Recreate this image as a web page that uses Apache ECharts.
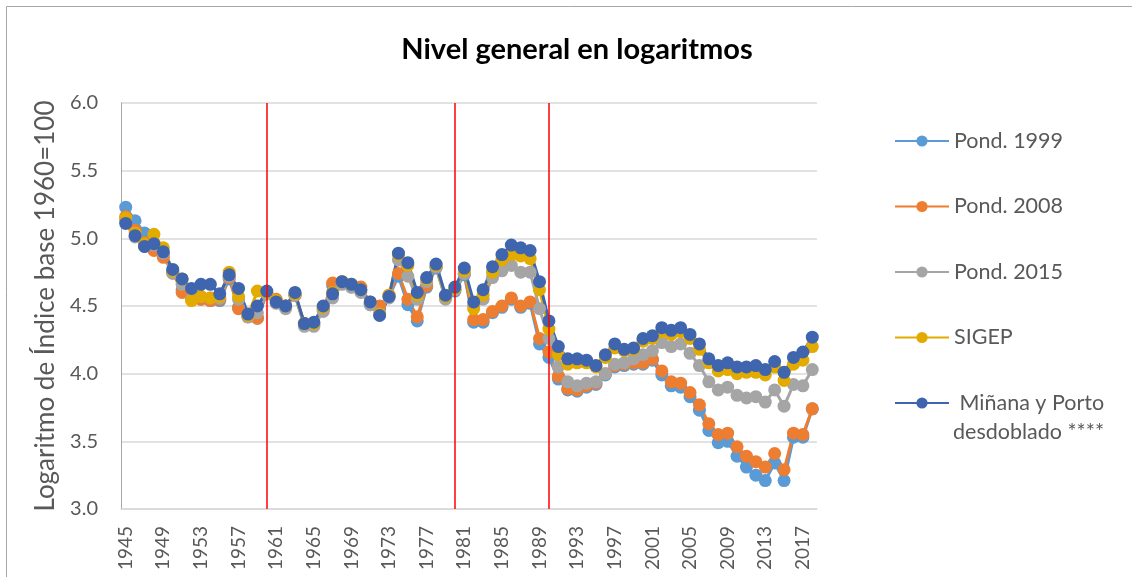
<!DOCTYPE html>
<html>
<head>
<meta charset="utf-8">
<script src="https://cdn.jsdelivr.net/npm/echarts@6/dist/echarts.min.js"></script>
<style>
  html, body { margin: 0; padding: 0; background: #fff; }
  #nivel-log { width: 1132px; height: 577px; }
</style>
</head>
<body>
<div id="nivel-log"></div>
<script>
var years = [];
for (var y = 1945; y <= 2018; y++) { years.push(String(y)); }

var pond1999 = [5.23,5.13,5.04,4.94,4.88,4.75,4.62,4.56,4.55,4.54,4.54,4.70,4.49,4.42,4.41,4.59,
    4.54,4.49,4.58,4.36,4.36,4.47,4.65,4.67,4.64,4.62,4.51,4.48,4.57,4.72,4.51,4.39,4.64,4.78,4.56,4.61,
    4.73,4.38,4.38,4.45,4.49,4.55,4.49,4.52,4.22,4.12,3.96,3.88,3.87,3.90,3.92,3.99,4.05,4.06,4.07,4.07,
    4.10,3.99,3.91,3.90,3.83,3.73,3.58,3.49,3.50,3.39,3.31,3.25,3.21,3.34,3.21,3.53,3.53,3.74];
var pond2008 = [5.16,5.06,4.97,4.91,4.86,4.75,4.60,4.57,4.55,4.54,4.55,4.71,4.48,4.42,4.41,4.60,
    4.55,4.50,4.58,4.37,4.37,4.48,4.67,4.68,4.65,4.64,4.52,4.50,4.58,4.74,4.55,4.42,4.65,4.79,4.57,4.62,
    4.74,4.40,4.40,4.46,4.50,4.56,4.50,4.53,4.26,4.16,3.98,3.89,3.88,3.91,3.93,4.00,4.06,4.07,4.08,4.08,
    4.11,4.02,3.94,3.93,3.86,3.77,3.63,3.55,3.56,3.46,3.39,3.35,3.31,3.41,3.29,3.56,3.55,3.74];
var pond2015 = [5.13,5.01,4.94,4.95,4.89,4.74,4.66,4.55,4.57,4.56,4.56,4.72,4.55,4.42,4.45,4.59,
    4.52,4.48,4.58,4.35,4.35,4.46,4.56,4.66,4.64,4.60,4.51,4.44,4.56,4.84,4.72,4.55,4.68,4.79,4.55,4.62,
    4.74,4.50,4.55,4.71,4.76,4.80,4.75,4.75,4.48,4.26,4.05,3.94,3.91,3.93,3.94,4.00,4.07,4.08,4.11,4.14,
    4.17,4.23,4.20,4.22,4.15,4.06,3.94,3.88,3.90,3.84,3.82,3.83,3.79,3.88,3.76,3.92,3.91,4.03];
var sigep = [5.15,5.04,4.96,5.03,4.93,4.76,4.70,4.54,4.57,4.56,4.57,4.75,4.57,4.43,4.61,4.60,
    4.54,4.50,4.59,4.37,4.37,4.49,4.60,4.68,4.66,4.62,4.53,4.44,4.58,4.88,4.80,4.58,4.70,4.80,4.57,4.63,
    4.76,4.48,4.58,4.75,4.84,4.88,4.87,4.85,4.62,4.33,4.14,4.07,4.08,4.08,4.05,4.12,4.19,4.17,4.18,4.24,
    4.26,4.31,4.29,4.31,4.26,4.18,4.08,4.02,4.03,4.00,4.01,4.01,3.99,4.05,3.95,4.07,4.10,4.20];
var minanaPorto = [5.11,5.02,4.94,4.96,4.90,4.77,4.70,4.63,4.66,4.66,4.59,4.73,4.63,4.44,4.50,4.61,
    4.53,4.50,4.60,4.37,4.38,4.50,4.59,4.68,4.66,4.62,4.53,4.43,4.57,4.89,4.82,4.60,4.71,4.81,4.58,4.64,
    4.78,4.53,4.62,4.79,4.88,4.95,4.93,4.91,4.68,4.39,4.20,4.11,4.11,4.10,4.06,4.14,4.22,4.18,4.19,4.26,
    4.28,4.34,4.32,4.34,4.29,4.22,4.11,4.06,4.08,4.05,4.05,4.06,4.03,4.09,4.01,4.12,4.16,4.27];

var cortes = ['1960', '1980', '1990'];

var fuente = 'Lato, "Open Sans", sans-serif';
var gris = '#595959';

function serie(nombre, datos, color) {
    return {
        name: nombre,
        type: 'line',
        data: datos,
        symbol: 'circle',
        symbolSize: 13,
        showSymbol: true,
        showAllSymbol: true,
        lineStyle: { width: 3, color: color },
        itemStyle: { color: color },
        emphasis: { disabled: true }
    };
}

var chart = echarts.init(document.getElementById('nivel-log'));

var series = [
    serie('Pond. 1999', pond1999, '#5B9BD5'),
    serie('Pond. 2008', pond2008, '#ED7D31'),
    serie('Pond. 2015', pond2015, '#A5A5A5'),
    serie('SIGEP', sigep, '#E3AA00'),
    serie('Miñana y Porto desdoblado ****', minanaPorto, '#3F65AE')
];

series[0].markLine = {
    silent: true,
    symbol: 'none',
    label: { show: false },
    lineStyle: { color: '#FF0000', width: 1.5, type: 'solid' },
    data: cortes.map(function (c) { return { xAxis: c }; })
};

option = {
    animation: false,
    backgroundColor: '#fff',
    title: {
        text: 'Nivel general en logaritmos',
        left: 572,
        top: 30,
        textAlign: 'center',
        textStyle: { fontFamily: fuente, fontSize: 29, fontWeight: 'bold', color: '#000' }
    },
    legend: {
        orient: 'vertical',
        left: 894,
        top: 130,
        padding: 0,
        itemGap: 43.5,
        itemWidth: 54,
        itemHeight: 14,
        textStyle: { fontFamily: fuente, fontSize: 21.5, lineHeight: 20, color: gris },
        formatter: function (name) {
            return name.indexOf('Miñana') === 0 ? ' Miñana y Porto' : name;
        },
        data: ['Pond. 1999', 'Pond. 2008', 'Pond. 2015', 'SIGEP', 'Miñana y Porto desdoblado ****']
    },
    graphic: [
        {
            type: 'rect',
            silent: true,
            shape: { x: 6.5, y: 6.5, width: 1140, height: 600 },
            style: { fill: 'none', stroke: '#A6A6A6', lineWidth: 1 }
        },
        {
            type: 'text',
            left: 953,
            top: 421,
            style: { text: 'desdoblado ****', font: '21.5px ' + fuente, fill: gris }
        }
    ],
    grid: { left: 121, right: 315, top: 103, bottom: 68 },
    xAxis: {
        type: 'category',
        data: years,
        boundaryGap: true,
        axisLine: { lineStyle: { color: '#D9D9D9', width: 1.5 } },
        axisTick: { show: false },
        axisLabel: {
            interval: 3,
            rotate: 90,
            margin: 17,
            fontFamily: fuente,
            fontSize: 19,
            color: gris
        }
    },
    yAxis: {
        type: 'value',
        min: 3,
        max: 6,
        interval: 0.5,
        name: 'Logaritmo de Índice base 1960=100',
        nameLocation: 'middle',
        nameGap: 62,
        nameTextStyle: { fontFamily: fuente, fontSize: 26, color: gris },
        axisLine: { show: true, lineStyle: { color: '#A6A6A6', width: 1 } },
        axisTick: { show: false },
        splitLine: { lineStyle: { color: '#D9D9D9', width: 1.5 } },
        axisLabel: {
            margin: 23,
            fontFamily: fuente,
            fontSize: 20,
            color: gris,
            formatter: function (v) { return v.toFixed(1); }
        }
    },
    series: series
};

chart.setOption(option);
</script>
</body>
</html>
